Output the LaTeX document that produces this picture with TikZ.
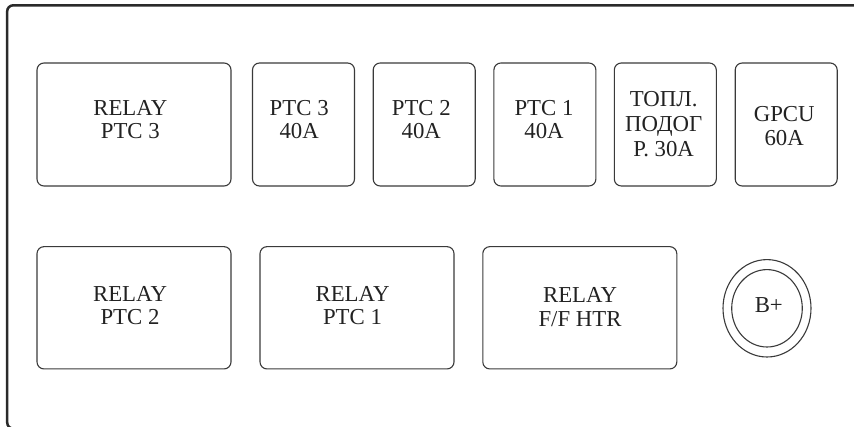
\documentclass[tikz,border=0pt]{standalone}
\usepackage{fontspec}
\setmainfont{Liberation Serif}
\usetikzlibrary{shapes.geometric}
\definecolor{frm}{HTML}{2A2A2A}
\definecolor{bx}{HTML}{3A3A3A}
\definecolor{txt}{HTML}{222222}
\begin{document}
\begin{tikzpicture}[x=1pt,y=-1pt,
  panel/.style={draw=bx,line width=1.1pt,rounded corners=7pt,inner sep=0pt},
  wide/.style={panel,minimum width=194pt,minimum height=123pt},
  fuse/.style={panel,minimum width=102pt,minimum height=123pt},
  lbl/.style={align=center,text=txt,inner sep=0pt,font=\fontsize{22.8}{23.2}\selectfont},
  ring/.style={draw=bx,line width=1.1pt,ellipse,inner sep=0pt}]
\useasboundingbox (0,0) rectangle (854,427);
\clip (0,0) rectangle (854,427);
% outer frame
\draw[frm,line width=2.5pt,rounded corners=6pt] (7.2,5.3) rectangle (880,428.6);
% top row
\node[wide] (r3) at (134,124.5) {};
\node[lbl] (r3t) at (130.3,119.4) {RELAY\\PTC 3};
\node[fuse] (f3) at (303.5,124.5) {};
\node[lbl] (f3t) at (299.2,119.7) {PTC 3\\40A};
\node[fuse] (f2) at (424.2,124.5) {};
\node[lbl] (f2t) at (421.3,119.7) {PTC 2\\40A};
\node[fuse] (f1) at (544.9,124.5) {};
\node[lbl] (f1t) at (544,119.7) {PTC 1\\40A};
\node[fuse] (ft) at (665.3,124.5) {};
\node[lbl,font=\fontsize{22.8}{25}\selectfont] (ftt) at (663.7,124.5) {ТОПЛ.\\ПОДОГ\\Р. 30А};
\node[fuse] (gp) at (786.2,124.5) {};
\node[lbl,font=\fontsize{22.8}{24.3}\selectfont] (gpt) at (784.2,126) {GPCU\\60A};
% bottom row
\node[wide,minimum height=122.3pt] (r2) at (134,307.8) {};
\node[lbl] (r2t) at (130,305.8) {RELAY\\PTC 2};
\node[wide,minimum height=122.3pt] (r1) at (357,307.8) {};
\node[lbl] (r1t) at (352.5,305.8) {RELAY\\PTC 1};
\node[wide,minimum height=122.3pt] (rf) at (579.8,307.8) {};
\node[lbl] (rft) at (580,307) {RELAY\\F/F HTR};
% B+ terminal
\node[ring,minimum width=88pt,minimum height=97.4pt] (bo) at (767,308.3) {};
\node[ring,minimum width=70.6pt,minimum height=77.4pt] (bi) at (767,308.3) {};
\node[lbl] (bt) at (768.8,305.5) {B+};
\end{tikzpicture}
\end{document}
